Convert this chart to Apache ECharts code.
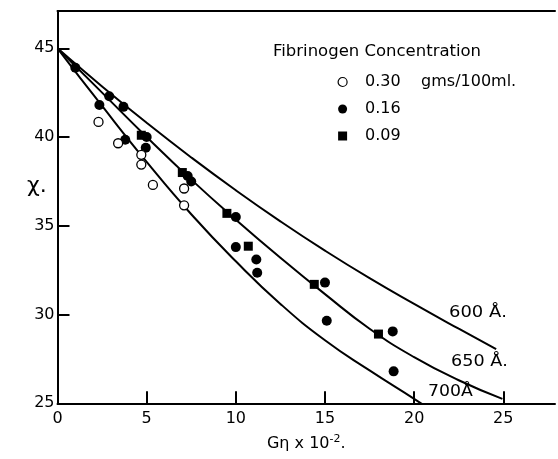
<!DOCTYPE html>
<html><head><meta charset="utf-8">
<script src="https://cdn.jsdelivr.net/npm/echarts@6/dist/echarts.min.js"></script>
<style>html,body{margin:0;padding:0;background:#fff}#c{width:558px;height:459px}</style>
</head><body><div id="c"></div>
<script>
// ---- data ----
const xTicks = [0, 5, 10, 15, 20, 25];
const yTicks = [25, 30, 35, 40, 45];
const curve600 = [[0,45],[2.5,42.85],[5,40.8],[7.5,38.85],[10,37.0],[12.5,35.25],[15,33.6],[17.5,32.05],[20,30.6],[22.5,29.2],[24.6,28.05]];
const curve650 = [[0,45],[2.5,42.5],[5,40.0],[7.5,37.6],[10,35.35],[12.5,33.2],[15,31.15],[17.5,29.2],[20,27.6],[22.5,26.3],[24.95,25.25]];
const curve700 = [[0,45],[2.5,41.75],[5,38.6],[7.5,35.65],[10,33.0],[12.5,30.6],[15,28.55],[17.5,26.85],[20,25.25],[20.45,24.95]];
const open030 = [[2.3,40.85],[3.4,39.65],[4.7,39.0],[4.7,38.45],[5.35,37.3],[7.1,37.1],[7.1,36.15]];
const filled016 = [[1.0,43.9],[2.35,41.8],[2.9,42.3],[3.7,41.7],[3.8,39.85],[5.0,40.0],[4.95,39.4],[7.3,37.8],[7.5,37.5],[10.0,35.5],[10.0,33.8],[11.15,33.1],[11.2,32.35],[15.0,31.8],[15.1,29.65],[18.8,29.05],[18.85,26.8]];
const square009 = [[4.7,40.1],[7.0,38.0],[9.5,35.7],[10.7,33.85],[14.4,31.7],[18.0,28.9]];
const curveNames = ['600 Å.', '650 Å.', '700Å'];
const legendTitle = 'Fibrinogen Concentration';
const legendNames = ['0.30    gms/100ml.', '0.16', '0.09'];
const xName = 'Gη x 10';
const yName = 'χ.';

const FONT = 'DejaVu Sans';
const chart = echarts.init(document.getElementById('c'));
const fmt = (ticks) => (v) => ticks.includes(Math.round(v * 1000) / 1000) ? String(v) : '';
const lineSeries = (name, data) => ({
  name, type: 'line', data, showSymbol: false, smooth: true, z: 2,
  lineStyle: { color: '#000', width: 2 }, silent: true
});
const txt = (s, left, top, size, sx) => ({
  type: 'text', left, top, scaleX: sx || 1,
  style: { text: s, font: size + 'px "' + FONT + '"', fill: '#000' }
});
chart.setOption({
  animation: false,
  backgroundColor: '#fff',
  textStyle: { fontFamily: FONT, color: '#000' },
  grid: { left: 57.5, top: 11, right: 0, bottom: 55.7, containLabel: false },
  xAxis: [{
    type: 'value', min: 0, max: 27.9, interval: 5,
    axisLine: { show: true, lineStyle: { color: '#000', width: 2 } },
    axisTick: { show: true, inside: true, length: 12, customValues: xTicks, lineStyle: { color: '#000', width: 2 } },
    axisLabel: { formatter: fmt(xTicks), fontSize: 16, color: '#000', margin: 8, fontFamily: FONT },
    splitLine: { show: false },
    name: '{a|' + xName + '}{s|-2}{a|.}', nameLocation: 'middle', nameGap: 30,
    nameTextStyle: { rich: { a: { fontSize: 16, fontFamily: FONT, color: '#000' }, s: { fontSize: 11, fontFamily: FONT, color: '#000', verticalAlign: 'top', padding: [0,0,10,0] } } }
  }, {
    type: 'value', position: 'top', min: 0, max: 27.9,
    axisLine: { show: true, lineStyle: { color: '#000', width: 2 } },
    axisTick: { show: false }, axisLabel: { show: false }, splitLine: { show: false }
  }],
  yAxis: {
    type: 'value', min: 25, max: 47.1, interval: 5,
    axisLine: { show: true, lineStyle: { color: '#000', width: 2 } },
    axisTick: { show: true, inside: true, length: 12, customValues: yTicks, lineStyle: { color: '#000', width: 2 } },
    axisLabel: { formatter: fmt(yTicks), fontSize: 16, color: '#000', margin: 3, fontFamily: FONT },
    splitLine: { show: false }
  },
  legend: {
    orient: 'vertical', left: 337.5, top: 73, padding: 0, itemWidth: 9, itemHeight: 9, itemGap: 9,
    selectedMode: false,
    textStyle: { fontSize: 16, fontFamily: FONT, color: '#000', padding: [0,0,0,13], lineHeight: 18 },
    data: [
      { name: legendNames[0], icon: 'circle', itemStyle: { color: '#fff', borderColor: '#000', borderWidth: 1.2 } },
      { name: legendNames[1], icon: 'circle', itemStyle: { color: '#000' } },
      { name: legendNames[2], icon: 'rect', itemStyle: { color: '#000' } }
    ]
  },
  graphic: [
    txt(legendTitle, 273, 44, 16, 1.03),
    txt(yName, 27, 175, 22),
    txt(curveNames[0], 449, 305, 16, 1.12),
    txt(curveNames[1], 451, 354, 16, 1.1),
    txt(curveNames[2], 428, 384, 16, 1.08)
  ],
  series: [
    lineSeries('600', curve600),
    lineSeries('650', curve650),
    lineSeries('700', curve700),
    { name: legendNames[0], type: 'scatter', data: open030, symbol: 'circle', symbolSize: 9, z: 4,
      itemStyle: { color: '#fff', borderColor: '#000', borderWidth: 1.3, opacity: 1 } },
    { name: legendNames[1], type: 'scatter', data: filled016, symbol: 'circle', symbolSize: 10, z: 3,
      itemStyle: { color: '#000', opacity: 1 } },
    { name: legendNames[2], type: 'scatter', data: square009, symbol: 'rect', symbolSize: 9, z: 3,
      itemStyle: { color: '#000', opacity: 1 } }
  ]
});
</script></body></html>
